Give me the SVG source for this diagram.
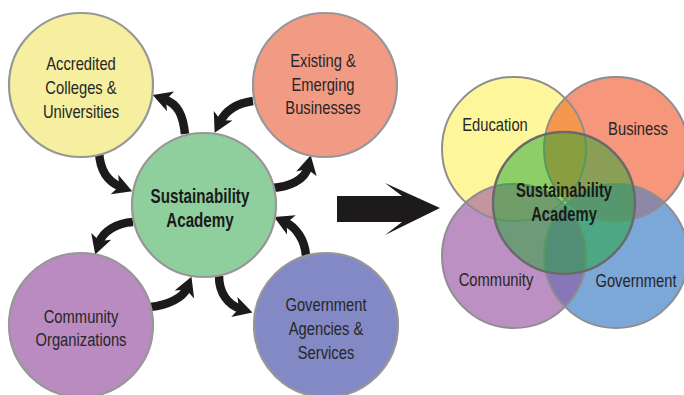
<svg xmlns="http://www.w3.org/2000/svg" width="684" height="395" viewBox="0 0 684 395">
<style>
.c{stroke:#979797;stroke-width:2.2}
.t{font-family:"Liberation Sans",Arial,sans-serif;font-size:18px;fill:#262626;text-anchor:middle}
.b{font-family:"Liberation Sans",Arial,sans-serif;font-size:20px;font-weight:bold;fill:#1a1a1a;text-anchor:middle}
.a{fill:none;stroke:#1c1a1a;stroke-width:8.5;marker-end:url(#ah)}
.vs{fill:none;stroke:#8e8e8e;stroke-width:2}
</style>
<defs>
<marker id="ah" markerUnits="userSpaceOnUse" markerWidth="30" markerHeight="30" viewBox="-10 -15 30 30" refX="0" refY="0" orient="auto">
<path d="M12,0 L-7,-10.5 L-2,0 L-7,10.5 Z" fill="#1c1a1a"/>
</marker>
</defs>
<rect width="684" height="395" fill="#ffffff"/>

<g id="connectors">
<path class="a" d="M185,134 C183,115 178,104 164,99"/>
<path class="a" d="M253,101 C238,103 226,110 220,122"/>
<path class="a" d="M99,152 C100,170 108,182 121,187"/>
<path class="a" d="M272,188 C289,187 305,180 308,167"/>
<path class="a" d="M133,222 C117,223 103,231 99,243"/>
<path class="a" d="M150,307 C168,305 183,298 187,288"/>
<path class="a" d="M219,276 C219,293 228,305 241,309"/>
<path class="a" d="M306,256 C305,240 296,227 285,222"/>
</g>

<g id="colleges">
<circle class="c" cx="81" cy="85" r="72" fill="#f5ef9f"/>
<text class="t" transform="translate(81,70) scale(0.82,1)"><tspan x="0" y="0">Accredited</tspan><tspan x="0" y="24">Colleges &amp;</tspan><tspan x="0" y="48">Universities</tspan></text>
</g>
<g id="businesses">
<circle class="c" cx="325" cy="85" r="72" fill="#f29b84"/>
<text class="t" transform="translate(323,67) scale(0.82,1)"><tspan x="0" y="0">Existing &amp;</tspan><tspan x="0" y="24">Emerging</tspan><tspan x="0" y="47">Businesses</tspan></text>
</g>
<g id="academy">
<circle class="c" cx="204" cy="205" r="72" fill="#8ecf9d"/>
<text class="b" transform="translate(200,203) scale(0.76,1)"><tspan x="0" y="0">Sustainability</tspan><tspan x="0" y="24">Academy</tspan></text>
</g>
<g id="community">
<circle class="c" cx="81" cy="325" r="72" fill="#b98bc1"/>
<text class="t" transform="translate(81,323) scale(0.82,1)"><tspan x="0" y="0">Community</tspan><tspan x="0" y="23">Organizations</tspan></text>
</g>
<g id="government">
<circle class="c" cx="326" cy="325" r="72" fill="#8389c4"/>
<text class="t" transform="translate(326,311) scale(0.82,1)"><tspan x="0" y="0">Government</tspan><tspan x="0" y="24">Agencies &amp;</tspan><tspan x="0" y="48">Services</tspan></text>
</g>

<g id="big-arrow">
<path d="M337,196 L402,196 L385,183 L440,208 L385,235 L402,222 L337,222 Z" fill="#1c1a1a"/>
</g>

<g id="venn">
<circle cx="514" cy="149" r="72" fill="#fef69b"/>
<circle cx="616" cy="149" r="72" fill="#f6967b"/>
<circle cx="514" cy="256" r="72" fill="#bc90c3"/>
<circle cx="616" cy="256" r="72" fill="#7ca8d9"/>
<path d="M565,98.2 A72,72 0 0 1 565,199.8 A72,72 0 0 1 565,98.2 Z" fill="#f5974c"/>
<path d="M565,205.2 A72,72 0 0 1 565,306.8 A72,72 0 0 1 565,205.2 Z" fill="#8777b9"/>
<path d="M465.8,202.5 A72,72 0 0 1 562.2,202.5 A72,72 0 0 1 465.8,202.5 Z" fill="#c3959f"/>
<path d="M567.8,202.5 A72,72 0 0 1 664.2,202.5 A72,72 0 0 1 567.8,202.5 Z" fill="#8e88a8"/>
<circle class="vs" cx="514" cy="149" r="72"/>
<circle class="vs" cx="616" cy="149" r="72"/>
<circle class="vs" cx="514" cy="256" r="72"/>
<circle class="vs" cx="616" cy="256" r="72"/>
<circle cx="564" cy="203" r="71" fill="#1ea632" fill-opacity="0.5" stroke="#6a6a6a" stroke-width="2.5"/>
<text class="t" transform="translate(495,131) scale(0.82,1)">Education</text>
<text class="t" transform="translate(638,135) scale(0.82,1)">Business</text>
<text class="t" transform="translate(496,286) scale(0.82,1)">Community</text>
<text class="t" transform="translate(636,287) scale(0.82,1)">Government</text>
<text class="b" transform="translate(564,197) scale(0.74,1)"><tspan x="0" y="0">Sustainability</tspan><tspan x="0" y="24">Academy</tspan></text>
</g>
</svg>
